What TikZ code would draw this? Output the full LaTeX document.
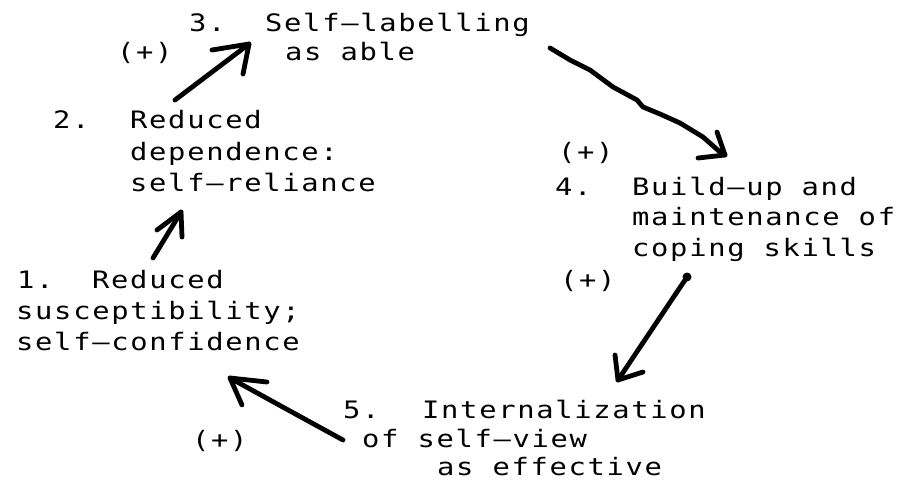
\documentclass[tikz,border=0pt]{standalone}
\usepackage{fontspec}
\newfontfamily\dotmatrix[FakeStretch=1.2,LetterSpace=7]{DejaVu Sans Mono}
\tikzset{
  txt/.style={anchor=base west, inner sep=0pt, font=\dotmatrix\fontsize{24}{30}\selectfont},
  handarrow/.style={line width=4.8pt, line cap=round, line join=round}
}
\begin{document}
\begin{tikzpicture}[x=1pt,y=-1pt]
\fill[white] (0,0) rectangle (899,485);
\useasboundingbox (0,0) rectangle (899,485);
% step 3
\node[txt] (n3num) at (189,31) {3.};
\node[txt] (n3a) at (265,31) {Self–labelling};
\node[txt] (n3b) at (285,60) {as able};
\node[txt] (p23) at (117,60) {(+)};
% step 2
\node[txt] (n2num) at (53,128) {2.};
\node[txt] (n2a) at (130,128) {Reduced};
\node[txt] (n2b) at (130,160) {dependence:};
\node[txt] (n2c) at (130,191) {self–reliance};
% step 4
\node[txt] (p34) at (558,160) {(+)};
\node[txt] (n4num) at (555,195) {4.};
\node[txt] (n4a) at (632,195) {Build–up and};
\node[txt] (n4b) at (632,225) {maintenance of};
\node[txt] (n4c) at (632,256) {coping skills};
\node[txt] (p45) at (560,288) {(+)};
% step 1
\node[txt] (n1num) at (17,288) {1.};
\node[txt] (n1a) at (92,288) {Reduced};
\node[txt] (n1b) at (16,319) {susceptibility;};
\node[txt] (n1c) at (16,350) {self–confidence};
% step 5
\node[txt] (n5num) at (343,418) {5.};
\node[txt] (n5a) at (422,418) {Internalization};
\node[txt] (n5b) at (362,447) {of self–view};
\node[txt] (n5c) at (437,475) {as effective};
\node[txt] (p51) at (192,448) {(+)};
% arrow coordinates
\coordinate (t12) at (153,258); \coordinate (h12) at (181,212);
\coordinate (t23) at (175,100); \coordinate (h23) at (249,44);
\coordinate (t34) at (550,48);  \coordinate (h34) at (725,155);
\coordinate (t45) at (687,277); \coordinate (h45) at (618,380);
\coordinate (t51) at (343,440); \coordinate (h51) at (230,378);
% 1 -> 2
\draw[handarrow] (t12) -- (h12);
\draw[handarrow] (157,230) -- (h12) -- (182,237);
% 2 -> 3
\draw[handarrow] (t23) -- (h23);
\draw[handarrow] (212,50) -- (h23) -- (243,74);
% 3 -> 4 (wavy)
\draw[handarrow] (t34) -- (570,60) -- (590,70) -- (613,87) -- (637,100) -- (643,107) -- (660,114) -- (680,123) -- (703,137) -- (720,152) -- (h34);
\draw[handarrow] (698,158) -- (h34) -- (717,132);
% 4 -> 5
\fill (t45) circle (4.5);
\draw[handarrow] (t45) -- (h45);
\draw[handarrow] (615,355) -- (h45) -- (643,372);
% 5 -> 1
\draw[handarrow] (t51) -- (290,411) -- (h51);
\draw[handarrow] (267,382) -- (h51) -- (242,405);
\end{tikzpicture}
\end{document}
